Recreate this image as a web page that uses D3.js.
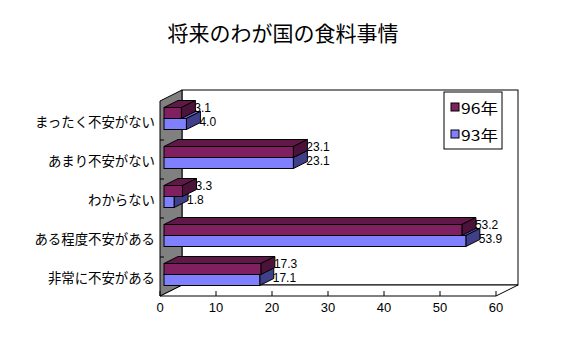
<!DOCTYPE html>
<html>
<head>
<meta charset="utf-8">
<script src="https://cdn.jsdelivr.net/npm/d3@7"></script>
<style>
  body { margin: 0; background: #fff; }
  svg { display: block; }
</style>
</head>
<body>
<svg id="chart" width="566" height="358"></svg>
<script>
const title = "将来のわが国の食料事情";
const categories = ["まったく不安がない", "あまり不安がない", "わからない", "ある程度不安がある", "非常に不安がある"];
const seriesNames = ["96年", "93年"];
const values96 = [3.1, 23.1, 3.3, 53.2, 17.3];
const values93 = [4.0, 23.1, 1.8, 53.9, 17.1];
const xTicks = [0, 10, 20, 30, 40, 50, 60];

const colors = {
  "96年": { front: "#802060", top: "#5f1848", side: "#4c133a" },
  "93年": { front: "#8080ff", top: "#6464c8", side: "#40408a" }
};

(function () {
const svg = d3.select("#chart");
const fontCJK = "'Noto Sans CJK JP', 'Noto Sans', sans-serif";
const fontNum = "'Liberation Sans', Arial, sans-serif";

// geometry
const pL = 160, pR = 496, pT = 101, pB = 296;
const DX = 22, DY = -11;             // wall depth
const bf = 4 / 22, bb = 18 / 22;     // bar depth range (fraction)

const x = d3.scaleLinear().domain([0, 60]).range([pL, pR]);
const y = d3.scaleBand().domain(categories).range([pT, pB]);
const pairH = 22;
const pts = a => a.map(p => p.join(",")).join(" ");

const g = svg.append("g");

// back wall
g.append("rect").attr("x", pL + DX).attr("y", pT + DY)
  .attr("width", pR - pL).attr("height", pB - pT)
  .attr("fill", "#fff").attr("stroke", "#000").attr("stroke-width", 1);
// floor
g.append("polygon")
  .attr("points", pts([[pL, pB], [pR, pB], [pR + DX, pB + DY], [pL + DX, pB + DY]]))
  .attr("fill", "#fff").attr("stroke", "#000");
// side wall
g.append("polygon")
  .attr("points", pts([[pL, pT], [pL + DX, pT + DY], [pL + DX, pB + DY], [pL, pB]]))
  .attr("fill", "#808080").attr("stroke", "#000");

// category ticks on side wall front edge
categories.slice(1).forEach(c => {
  g.append("line").attr("x1", pL).attr("x2", pL + 4)
    .attr("y1", y(c)).attr("y2", y(c)).attr("stroke", "#000");
});

// x ticks on floor
xTicks.forEach(t => {
  g.append("line").attr("x1", x(t)).attr("x2", x(t))
    .attr("y1", pB - 5).attr("y2", pB).attr("stroke", "#000");
});

// bars data
const bars = [];
categories.forEach((c, i) => {
  const cy = y(c) + y.bandwidth() / 2 + bf * DY;
  bars.push({ cat: c, ci: i, s: "96年", v: values96[i], y0: cy - pairH / 2, h: pairH / 2, lo: -5 });
  bars.push({ cat: c, ci: i, s: "93年", v: values93[i], y0: cy, h: pairH / 2, lo: -2.5 });
});

const fx = bf * DX, bx = bb * DX;
const ddx = (bb - bf) * DX, ddy = (bb - bf) * DY;

// value labels (behind bars)
bars.forEach(b => {
  g.append("text")
    .attr("x", x(b.v) + bx - 1)
    .attr("y", b.y0 + b.h / 2 + b.lo)
    .attr("dominant-baseline", "central")
    .attr("font-family", fontNum).attr("font-size", 12)
    .text(b.v.toFixed(1));
});

// draw bars: bottom category first, 93 before 96
const sorted = bars.slice().sort((a, b) => {
  if (a.ci !== b.ci) return b.ci - a.ci;
  return a.s === "93年" ? -1 : 1;
});
sorted.forEach(b => {
  const x0 = x(0) + fx, x1 = x(b.v) + fx;
  const y0 = b.y0, y1 = b.y0 + b.h;
  const col = colors[b.s];
  g.append("polygon").attr("points", pts([[x0, y0], [x1, y0], [x1 + ddx, y0 + ddy], [x0 + ddx, y0 + ddy]]))
    .attr("fill", col.top).attr("stroke", "#000").attr("stroke-width", 1).attr("stroke-linejoin", "round");
  g.append("polygon").attr("points", pts([[x1, y0], [x1 + ddx, y0 + ddy], [x1 + ddx, y1 + ddy], [x1, y1]]))
    .attr("fill", col.side).attr("stroke", "#000").attr("stroke-width", 1).attr("stroke-linejoin", "round");
  g.append("rect").attr("x", x0).attr("y", y0).attr("width", x1 - x0).attr("height", y1 - y0)
    .attr("fill", col.front).attr("stroke", "#000").attr("stroke-width", 1);
});

// x tick labels
xTicks.forEach(t => {
  g.append("text").attr("x", x(t)).attr("y", 312)
    .attr("text-anchor", "middle")
    .attr("font-family", fontNum).attr("font-size", 13)
    .text(t);
});

// category labels
categories.forEach(c => {
  g.append("text").attr("x", 155).attr("y", y(c) + y.bandwidth() / 2)
    .attr("text-anchor", "end").attr("dominant-baseline", "central")
    .attr("font-family", fontCJK).attr("font-size", 13.4)
    .text(c);
});

// title
svg.append("text").attr("x", 283).attr("y", 32)
  .attr("text-anchor", "middle").attr("dominant-baseline", "central")
  .attr("font-family", fontCJK).attr("font-size", 21)
  .text(title);

// legend
const lg = svg.append("g");
lg.append("rect").attr("x", 444).attr("y", 92).attr("width", 58).attr("height", 57)
  .attr("fill", "#fff").attr("stroke", "#000");
seriesNames.forEach((s, i) => {
  const cy = 107 + i * 27;
  lg.append("rect").attr("x", 451).attr("y", cy - 4).attr("width", 8).attr("height", 8)
    .attr("fill", colors[s].front).attr("stroke", "#000");
  lg.append("text").attr("x", 461).attr("y", cy)
    .attr("dominant-baseline", "central")
    .attr("font-family", fontCJK).attr("font-size", 14.5)
    .attr("textLength", 37).attr("lengthAdjust", "spacingAndGlyphs")
    .text(s);
});
})();
</script>
</body>
</html>
